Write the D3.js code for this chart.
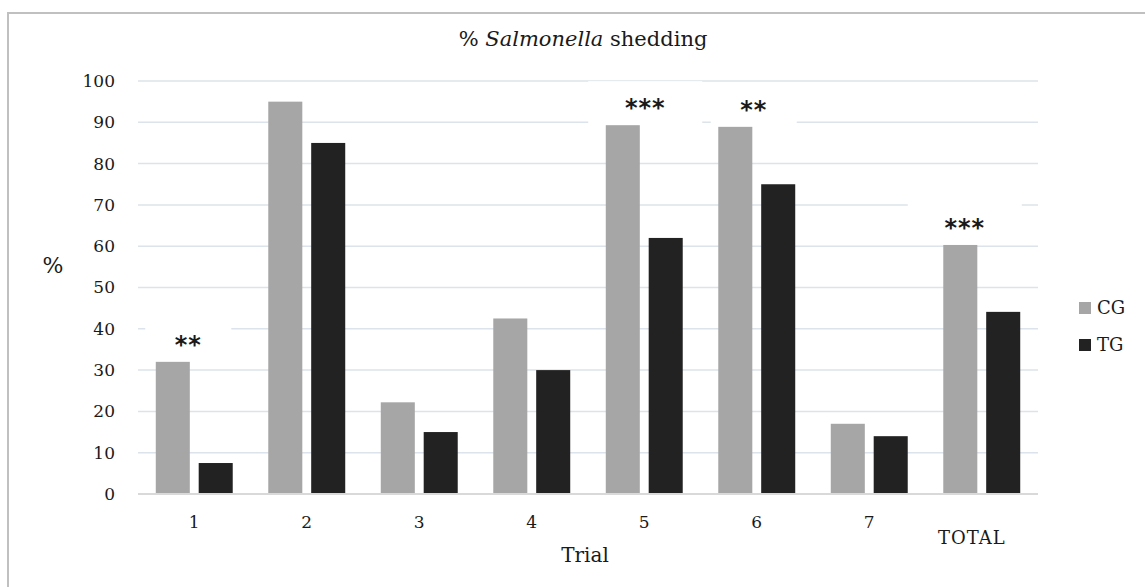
<!DOCTYPE html>
<html>
<head>
<meta charset="utf-8">
<script src="https://cdn.jsdelivr.net/npm/d3@7"></script>
<style>
  body { margin: 0; background: #fff; }
  svg text { font-family: "DejaVu Serif", "Liberation Serif", serif; fill: #1a1a1a; }
</style>
</head>
<body>
<svg id="chart" width="1145" height="587"></svg>
<script>
// data
const trials = ['1', '2', '3', '4', '5', '6', '7', 'TOTAL']
const groups = ['CG', 'TG']
const cgValues = [32, 95, 22.2, 42.5, 89.3, 88.9, 17, 60.3]
const tgValues = [7.5, 85, 15, 30, 62, 75, 14, 44.1]
const yTicks = [0, 10, 20, 30, 40, 50, 60, 70, 80, 90, 100]
// significance marks above the CG bar
const noteTrials = ['1', '5', '6', 'TOTAL']
const noteMarks = ['**', '***', '**', '***']

const colors = { CG: '#a6a6a6', TG: '#222222' }
const gridColor = '#dde3ea'

const svg = d3.select('#chart')
const plotLeft = 138, plotRight = 1038, plotTop = 81, plotBottom = 494

// outer frame
svg.append('rect')
  .attr('x', 8).attr('y', 13)
  .attr('width', 1160).attr('height', 620)
  .attr('fill', '#fff')
  .attr('stroke', '#c0c0c0')
  .attr('stroke-width', 2)

const x = d3.scaleBand().domain(trials).range([plotLeft, plotRight])
  .paddingInner(0.316).paddingOuter(0.158)
const xs = d3.scaleBand().domain(groups).range([0, x.bandwidth()]).paddingInner(0.207)
const y = d3.scaleLinear().domain([0, 100]).range([plotBottom, plotTop])

// grid lines
svg.append('g').selectAll('line')
  .data(yTicks)
  .join('line')
  .attr('x1', plotLeft).attr('x2', plotRight)
  .attr('y1', d => y(d)).attr('y2', d => y(d))
  .attr('stroke', gridColor)
  .attr('stroke-width', 1.5)

// y tick labels
svg.append('g').selectAll('text')
  .data(yTicks)
  .join('text')
  .attr('x', 115)
  .attr('y', d => y(d))
  .attr('dy', '0.35em')
  .attr('text-anchor', 'end')
  .attr('font-size', 17)
  .text(d => d)

// white label boxes hide the grid behind the marks (as in the original)
const cgByTrial = new Map(trials.map((t, i) => [t, cgValues[i]]))
const noteNudge = { '1': -6, '5': 1, '6': -3, 'TOTAL': -17 }
const notes = noteTrials.map((t, i) => ({ trial: t, mark: noteMarks[i] }))
const noteX = d => x(d.trial) + x.bandwidth() / 2 + noteNudge[d.trial]
const noteY = d => y(cgByTrial.get(d.trial)) - 22

svg.append('g').selectAll('rect')
  .data(notes)
  .join('rect')
  .attr('x', d => noteX(d) - (d.mark.length * 28 + 30) / 2)
  .attr('width', d => d.mark.length * 28 + 30)
  .attr('y', d => noteY(d) - 22)
  .attr('height', 44)
  .attr('fill', '#fff')

// bars
const series = groups.map(g => ({
  key: g,
  values: (g === 'CG' ? cgValues : tgValues).map((v, i) => ({ trial: trials[i], value: v }))
}))

svg.append('g').selectAll('g')
  .data(series)
  .join('g')
  .attr('fill', d => colors[d.key])
  .selectAll('rect')
  .data(d => d.values.map(v => ({ ...v, key: d.key })))
  .join('rect')
  .attr('x', d => x(d.trial) + xs(d.key))
  .attr('width', xs.bandwidth())
  .attr('y', d => y(d.value))
  .attr('height', d => y(0) - y(d.value))

// x axis line
svg.append('line')
  .attr('x1', plotLeft).attr('x2', plotRight)
  .attr('y1', plotBottom).attr('y2', plotBottom)
  .attr('stroke', '#d9d9d9')
  .attr('stroke-width', 2)

// x tick labels (TOTAL sits a bit lower, like a wrapped label)
svg.append('g').selectAll('text')
  .data(trials)
  .join('text')
  .attr('x', d => x(d) + x.bandwidth() / 2 - (d === 'TOTAL' ? 10 : 0))
  .attr('y', d => d === 'TOTAL' ? 538 : 522)
  .attr('dy', '0.35em')
  .attr('text-anchor', 'middle')
  .attr('font-size', d => d === 'TOTAL' ? 18 : 17)
  .attr('letter-spacing', d => d === 'TOTAL' ? 1 : 0)
  .text(d => d)

// significance marks
svg.append('g').selectAll('text')
  .data(notes)
  .join('text')
  .attr('x', noteX)
  .attr('y', d => noteY(d) + 13)
  .attr('text-anchor', 'middle')
  .attr('font-size', 24)
  .attr('font-weight', 'bold')
  .attr('letter-spacing', 1)
  .style('font-family', '"DejaVu Sans", sans-serif')
  .text(d => d.mark)

// title
const title = svg.append('text')
  .attr('x', 583).attr('y', 46)
  .attr('text-anchor', 'middle')
  .attr('font-size', 21)
title.append('tspan').text('% ')
title.append('tspan').attr('font-style', 'italic').text('Salmonella')
title.append('tspan').text(' shedding')

// axis titles
svg.append('text')
  .attr('x', 53).attr('y', 265)
  .attr('dy', '0.35em')
  .attr('text-anchor', 'middle')
  .attr('font-size', 22)
  .text('%')

svg.append('text')
  .attr('x', 585).attr('y', 555)
  .attr('dy', '0.35em')
  .attr('text-anchor', 'middle')
  .attr('font-size', 20)
  .text('Trial')

// legend
const legend = svg.append('g').selectAll('g')
  .data(groups)
  .join('g')
  .attr('transform', (d, i) => `translate(1079, ${302 + i * 37})`)
legend.append('rect')
  .attr('width', 12).attr('height', 12)
  .attr('fill', d => colors[d])
legend.append('text')
  .attr('x', 18).attr('y', 6)
  .attr('dy', '0.35em')
  .attr('font-size', 18)
  .text(d => d)
</script>
</body>
</html>
